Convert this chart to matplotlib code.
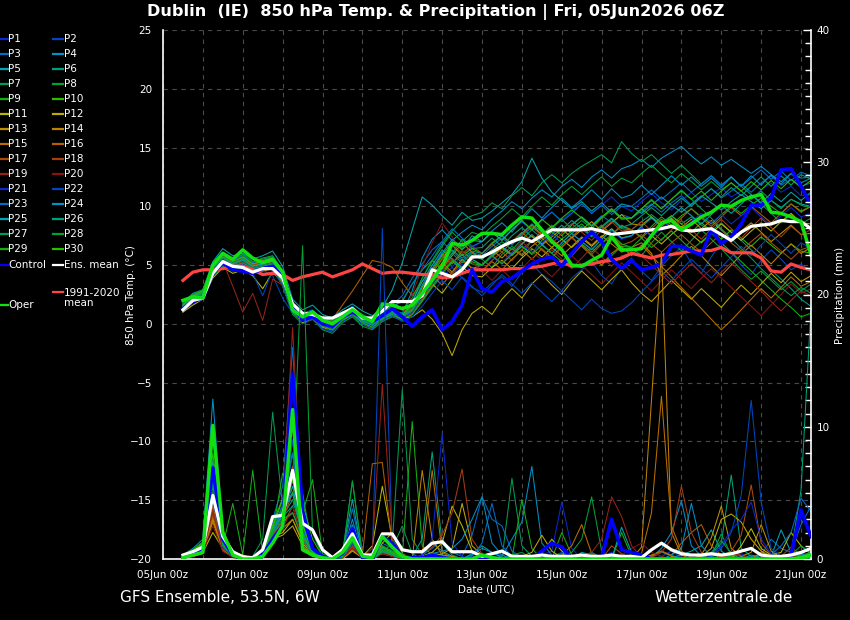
import numpy as np
import matplotlib
matplotlib.use("Agg")
import matplotlib.pyplot as plt
from matplotlib.lines import Line2D

# ---------------- data ----------------
TITLE = "Dublin  (IE)  850 hPa Temp. & Precipitation | Fri, 05Jun2026 06Z"
TICK_LABELS = ["05Jun 00z", "07Jun 00z", "09Jun 00z", "11Jun 00z", "13Jun 00z",
               "15Jun 00z", "17Jun 00z", "19Jun 00z", "21Jun 00z"]
# forecast valid times, hours after 05Jun 00z (6-hourly, 05Jun 12z .. 21Jun 06z)
HOURS = list(range(12, 391, 6))

ENS_MEAN_T = [1.2,2.0,2.2,4.3,5.3,4.9,4.8,4.4, 4.7,4.7,3.9,1.7,0.9,0.8,0.5,0.5,
              0.9,1.3,0.5,0.5,1.1,1.9,1.9,1.9, 2.4,4.6,4.3,4.0,4.6,5.7,5.7,6.1,
              6.6,7.0,7.3,7.0,7.5,8.0,8.0,8.0, 8.0,8.1,7.9,7.6,7.7,7.8,7.9,8.0,
              8.1,8.3,8.0,7.9,8.0,8.1,7.6,7.1, 7.8,8.3,8.4,8.5,8.8,8.7,8.7,8.1]
CLIM_T = [3.7,4.4,4.6,4.6,4.7,4.9,4.9,4.6, 4.2,4.3,4.2,3.7,4.0,4.2,4.4,4.0,
          4.3,4.6,5.1,4.7,4.3,4.4,4.4,4.3, 4.2,4.2,3.9,4.0,4.3,4.6,4.6,4.6,
          4.6,4.7,4.7,4.8,4.9,5.1,5.3,4.9, 5.0,5.1,5.3,5.4,5.6,6.0,5.8,5.6,
          5.85,5.9,6.05,6.2,6.2,6.25,6.5,6.05, 6.05,6.05,5.6,4.5,4.4,5.1,4.8,4.6]
CONTROL_T = [1.3,1.9,2.2,4.3,5.2,4.6,4.5,4.3, 4.7,4.9,4.0,1.5,0.3,0.6,0.0,-0.2,
             0.6,1.0,0.6,0.2,0.7,1.3,0.6,-0.2, 0.6,1.2,-0.5,0.2,1.6,4.6,3.0,2.7,
             3.6,3.9,4.5,5.1,5.5,5.7,4.9,6.0, 7.0,7.8,7.0,5.5,4.7,5.4,4.6,4.8,
             5.1,6.6,6.6,6.2,5.85,8.0,6.85,7.4, 8.5,10.1,10.1,10.7,13.1,13.2,11.7,10.1]
OPER_T = [2.0,2.3,2.2,5.0,6.0,5.5,6.3,5.6, 5.2,5.5,4.4,1.2,0.6,1.0,0.3,0.0,
          0.6,1.2,0.6,0.2,1.7,1.6,1.3,1.6, 2.6,3.7,4.9,6.85,6.7,7.1,7.7,7.7,
          7.6,8.4,9.1,9.0,8.0,7.0,6.3,5.0, 4.9,5.4,5.85,7.4,6.3,6.3,6.4,7.5,
          8.6,8.8,8.0,8.5,9.1,9.5,10.1,10.0, 10.5,10.8,11.0,9.5,9.4,9.1,8.7,5.85]

ENS_MEAN_R = [0.3,0.55,0.9,4.8,1.7,0.55,0.17,0.1, 0.7,3.2,3.3,6.7,2.7,2.2,0.7,0.1,
              0.7,1.9,0.3,0.3,1.9,1.9,0.7,0.55, 0.55,1.2,1.3,0.55,0.55,0.55,0.2,0.4,
              0.6,0.2,0.2,0.2,0.3,0.2,0.2,0.2, 0.3,0.2,0.2,0.3,0.2,0.2,0.1,0.7,
              1.2,0.7,0.4,0.3,0.3,0.4,0.3,0.4, 0.6,0.8,0.3,0.2,0.2,0.3,0.5,0.8]
CONTROL_R = [0.1,0.4,0.8,6.9,1.5,0.3,0,0, 0.3,1.5,2.5,14.0,3.5,0.8,0.2,0,
             0.4,2.3,0.1,0,1.7,1.2,0.2,0.1, 0.1,0.3,0.1,0,0,0,0,0,
             0,0,0,0,0.6,1.2,0.9,0, 0,0,0.1,3.0,0.7,0.5,0.3,0,
             0,0,0,0,0,0,0,0, 0,0,0,0,0,0.3,3.7,1.7]
OPER_R = [0.1,0.3,0.5,10.1,2.0,0.3,0,0, 0.2,1.2,2.5,11.3,0.7,0.3,0.1,0,
          0.5,1.6,0.2,0.1,1.7,0.9,0.2,0, 0,0,0,0,0,0,0.3,0.1,
          0,0,0,0,0,0,0,0, 0,0,0,0,0,0,0,0,
          0,0,0,0,0,0,0,0, 0,0,0,0,0,0,0.1,0.3]

# perturbation members: 850 hPa temperature (deg C)
P01_T = [1.4,2.1,2.6,4.8,5.6,5.0,5.3,4.6, 4.9,5.2,3.8,1.2,0.4,0.8,0.1,-0.3, 0.5,1.1,0.3,0.0,0.6,1.0,0.4,0.9,
         2.0,3.1,4.0,4.8,5.9,6.5,7.0,7.8, 7.2,8.1,8.7,8.0,8.9,9.5,8.8,9.6, 10.2,9.4,10.1,10.8,10.0,9.6,10.4,11.1, 10.3,9.7,10.5,11.2,10.4,11.0,11.6,10.8, 11.3,10.6,11.4,12.0,11.2,11.7,10.9,11.0]
P02_T = [1.1,1.8,2.3,4.2,5.0,4.6,4.8,4.4, 4.6,4.1,2.2,0.9,0.2,0.5,-0.4,-0.6, 0.2,0.8,0.0,-0.3,0.4,0.9,0.8,1.6,
         3.2,5.0,6.1,4.8,3.9,3.1,2.7,3.5, 4.0,3.2,4.4,5.1,4.2,3.6,2.8,3.9, 4.6,5.3,4.1,3.4,4.8,5.6,4.5,3.7, 4.9,5.8,6.5,5.2,4.3,5.7,6.9,6.1, 5.0,4.2,5.4,6.3,5.5,4.6,5.1,4.4]
P03_T = [1.6,2.4,2.8,5.0,6.1,5.4,5.7,5.1, 5.4,5.6,4.4,1.8,0.9,1.2,0.4,0.1, 0.9,1.5,0.7,0.2,0.9,1.6,2.4,3.9,
         5.1,6.3,7.0,6.2,5.4,6.1,5.8,6.6, 7.3,6.7,7.5,8.2,7.6,8.4,7.8,8.5, 9.1,8.4,9.2,8.6,9.3,9.0,9.6,10.2, 9.5,10.3,10.9,10.1,10.8,11.5,10.7,11.3, 11.9,11.2,12.0,12.6,11.8,12.3,11.7,12.0]
P04_T = [1.3,2.2,2.5,4.6,5.5,4.9,5.4,5.0, 5.2,5.5,4.0,1.4,0.6,1.0,0.3,0.2, 0.7,1.3,0.5,0.1,0.8,1.2,0.9,2.8,
         5.6,7.2,8.0,7.1,7.8,8.4,8.0,8.9, 9.6,10.4,9.8,10.7,11.4,10.8,11.7,12.3, 11.6,12.5,13.1,12.4,13.2,13.5,14.0,13.3, 14.1,14.6,15.1,14.3,13.6,14.2,13.5,14.0, 13.4,12.8,13.4,12.7,12.1,12.8,12.4,12.5]
P05_T = [1.8,2.6,2.9,5.3,6.4,5.8,6.0,5.5, 5.8,6.2,4.9,2.1,1.2,1.6,0.8,0.5, 1.2,1.7,1.1,0.7,1.4,2.9,5.2,8.0,
         10.8,10.1,9.2,8.4,9.5,8.8,9.0,9.6, 10.3,11.0,12.1,14.1,12.4,11.2,10.5,9.8, 10.4,9.6,10.3,9.5,10.2,10.0,9.4,10.1, 10.8,10.1,9.5,10.2,10.9,10.3,9.7,10.4, 11.0,10.4,9.8,10.5,9.9,10.6,10.2,10.0]
P06_T = [1.2,2.0,2.4,4.4,5.2,4.7,5.0,4.5, 4.7,4.8,3.6,1.0,0.3,0.6,-0.1,-0.4, 0.4,0.9,0.2,-0.1,0.5,0.8,0.5,1.1,
         2.2,3.5,4.8,6.0,7.2,6.4,6.5,7.3, 6.6,7.5,8.2,7.4,6.8,7.6,8.4,7.7, 8.3,7.5,8.2,8.9,8.1,8.0,8.7,9.3, 8.6,9.2,8.5,9.1,8.4,7.9,8.6,7.8, 7.1,6.3,5.5,4.6,3.8,3.0,2.1,1.5]
P07_T = [1.5,2.3,2.7,4.9,5.8,5.2,5.6,5.0, 5.3,5.4,4.1,1.3,0.5,0.9,0.2,0.0, 0.6,1.2,0.4,0.1,0.7,1.1,0.6,1.8,
         3.9,5.4,6.8,7.9,8.8,9.2,9.5,10.3, 9.8,10.9,11.6,10.9,12.0,12.7,12.0,12.8, 13.4,13.9,14.4,13.7,15.5,14.5,13.8,14.4, 13.6,12.8,13.5,12.7,11.9,12.6,11.8,12.5, 11.7,11.0,10.2,9.4,8.6,9.3,8.5,9.0]
P08_T = [1.0,1.9,2.2,4.1,4.9,4.5,4.9,4.3, 4.5,4.7,3.2,0.8,0.0,0.4,-0.5,-0.8, 0.1,0.6,-0.2,-0.5,0.2,0.6,0.3,0.8,
         1.9,3.1,4.2,5.3,4.6,5.8,5.5,4.8, 5.9,6.6,5.9,7.1,6.3,5.6,6.7,7.4, 6.6,5.8,5.0,5.8,6.6,6.5,5.8,6.9, 7.8,7.0,6.2,7.1,8.0,7.2,6.4,5.5, 4.6,3.8,4.5,3.7,2.9,3.6,2.8,3.4]
P09_T = [1.7,2.5,2.9,5.1,6.0,5.5,5.9,5.3, 5.6,5.8,4.5,1.6,0.8,1.1,0.5,0.3, 1.0,1.4,0.8,0.4,1.0,1.5,1.9,3.4,
         4.6,5.4,4.6,5.2,5.9,5.1,5.0,5.7, 6.4,5.8,6.6,6.0,7.1,7.8,7.2,7.9, 8.5,7.7,8.4,7.6,8.3,8.0,7.4,8.3, 9.1,8.4,9.2,9.8,9.1,8.5,9.3,10.0, 9.4,10.1,10.7,10.0,9.4,10.2,9.6,10.0]
P10_T = [1.4,2.2,2.6,4.7,5.6,5.1,5.5,4.9, 5.1,5.3,3.9,1.1,0.3,0.7,0.0,-0.2, 0.5,1.0,0.3,-0.1,0.5,0.9,0.6,1.4,
         2.8,4.3,5.5,6.7,5.8,6.4,6.0,6.9, 7.5,6.8,7.7,8.4,7.6,8.3,7.5,8.4, 9.1,8.3,9.0,9.7,8.9,9.0,9.8,9.1, 8.4,9.2,8.5,7.8,8.6,7.9,7.2,8.0, 7.3,6.6,7.4,6.7,6.0,6.8,6.2,6.0]
P11_T = [1.0,1.6,2.1,3.9,4.8,4.3,4.6,4.1, 3.0,4.4,3.5,1.0,0.1,0.4,-0.3,-0.5, 0.3,0.7,0.0,-0.4,0.3,0.7,0.4,1.0,
         2.1,3.4,2.6,3.8,4.9,4.1,4.0,4.8, 5.4,4.7,5.6,6.4,5.7,6.5,7.2,6.5, 7.3,6.6,7.4,8.1,7.3,7.5,8.2,7.5, 6.8,7.6,8.3,7.6,6.9,7.7,8.5,7.8, 7.1,7.9,8.6,7.9,8.7,9.4,8.6,8.5]
P12_T = [1.3,2.0,2.4,4.5,5.3,4.8,5.1,4.6, 4.8,5.0,3.7,1.2,0.4,0.7,0.0,-0.3, 0.5,0.9,0.2,-0.2,0.6,1.0,0.5,0.6,
         1.2,0.4,-0.8,-2.7,-0.5,0.9,1.5,0.8, 2.1,3.0,2.2,3.4,4.2,3.3,2.5,3.6, 4.5,3.7,2.9,3.8,4.6,3.5,2.6,1.9, 2.8,3.7,2.9,2.1,3.0,2.2,1.4,2.4, 3.3,2.5,3.4,4.3,3.5,4.4,3.6,4.1]
P13_T = [1.5,2.3,2.6,4.8,5.7,5.1,5.4,4.9, 5.2,5.3,4.0,1.4,0.6,0.9,0.2,0.0, 0.6,1.2,0.5,0.1,0.7,1.1,0.7,1.2,
         2.6,4.0,5.2,4.4,5.5,4.7,5.0,5.8, 6.5,5.9,6.8,7.5,6.7,7.4,8.1,7.3, 8.0,8.7,7.9,8.6,9.3,8.5,8.4,9.1, 8.3,9.0,8.2,8.9,8.1,8.8,8.0,7.2, 7.9,8.6,7.8,7.0,7.7,8.4,7.6,7.7]
P14_T = [1.2,2.0,2.4,4.3,5.2,4.7,5.0,4.4, 4.6,4.8,3.5,1.1,0.2,0.6,-0.2,-0.4, 0.4,0.8,0.1,-0.2,0.5,0.9,0.5,1.0,
         2.3,3.6,4.7,5.8,6.9,6.1,5.5,6.3, 5.6,6.4,5.8,6.6,7.3,6.5,5.8,6.6, 7.4,6.7,7.5,6.8,6.1,6.5,6.9,6.0, 4.1,4.9,5.8,6.6,5.8,4.9,4.1,5.0, 5.9,6.7,5.9,5.1,6.0,6.8,6.0,6.5]
P15_T = [1.6,2.4,2.8,5.0,5.9,5.3,5.7,5.1, 5.4,5.6,4.2,1.5,0.7,1.0,0.3,0.1, 0.8,1.3,0.6,0.2,0.8,1.3,0.8,1.1,
         2.7,4.1,3.3,4.4,5.5,4.7,4.5,5.3, 4.6,5.5,6.3,5.5,6.4,5.6,4.9,5.8, 6.7,5.9,5.0,6.0,6.6,5.8,6.7,5.8, 4.9,4.0,3.1,2.2,1.3,0.4,-0.5,0.3, 1.2,2.1,3.0,2.2,3.1,4.0,3.2,3.6]
P16_T = [1.1,1.8,2.2,4.2,5.1,4.6,4.9,4.3, 4.5,4.7,3.4,1.0,0.2,0.5,-0.2,0.4, 1.6,2.8,4.1,5.4,5.2,4.8,3.5,2.4,
         3.6,4.7,5.9,5.1,6.2,5.5,6.0,6.8, 6.1,7.0,7.8,7.0,7.9,7.2,6.5,7.4, 8.2,7.5,8.3,7.6,8.4,8.0,7.3,8.1, 8.9,8.2,9.0,9.8,9.0,8.3,9.1,9.9, 9.2,10.0,9.3,8.6,9.4,10.2,9.5,10.0]
P17_T = [1.4,2.1,2.5,4.6,5.4,4.9,5.2,4.7, 4.9,5.1,3.8,1.2,0.4,0.8,0.1,-0.2, 0.5,1.0,0.3,-0.1,0.6,1.0,0.6,1.3,
         2.5,3.8,5.0,4.2,5.3,4.8,4.5,5.4, 6.1,5.4,6.3,7.1,6.3,5.6,6.5,7.3, 6.6,5.9,6.8,7.5,6.7,7.0,7.6,6.8, 6.1,6.9,7.6,6.8,6.1,6.9,7.7,6.9, 6.2,7.0,7.7,6.9,6.2,5.5,6.3,6.6]
P18_T = [1.5,2.3,2.7,4.9,5.7,5.1,5.5,5.0, 5.2,5.4,4.0,1.4,0.6,0.9,0.3,0.0, 0.6,1.2,0.5,0.1,0.7,1.2,0.8,1.5,
         3.0,4.4,5.6,6.8,6.0,6.6,6.0,6.8, 7.5,6.8,7.6,8.3,7.5,6.8,7.7,8.5, 7.8,7.1,8.0,8.7,7.9,8.0,8.7,7.9, 7.1,8.0,8.8,8.0,7.2,8.1,8.9,8.1, 7.3,8.2,9.0,8.2,7.4,8.3,7.6,8.0]
P19_T = [1.2,1.9,2.3,4.4,5.3,3.2,1.0,2.6, 0.3,3.8,3.3,1.0,0.2,0.5,-0.2,-0.5, 0.3,0.8,0.1,-0.3,0.4,0.8,0.4,0.9,
         2.1,3.3,4.5,5.6,4.8,5.5,5.0,5.8, 5.2,6.1,7.0,6.2,5.4,6.3,5.5,4.7, 5.6,6.5,5.7,4.9,5.8,6.0,5.8,5.0, 4.2,3.4,4.3,5.1,4.3,3.5,4.4,5.2, 4.4,3.6,2.8,1.9,1.1,2.0,2.8,2.4]
P20_T = [1.4,2.1,2.5,4.6,5.5,5.0,5.3,4.8, 5.0,5.2,3.9,1.3,0.5,0.8,0.1,-0.2, 0.5,1.0,0.3,-0.1,0.6,1.0,0.7,2.5,
         4.8,6.9,8.6,7.4,6.2,5.3,4.5,3.7, 4.6,3.8,4.7,5.6,4.8,4.0,4.9,5.8, 5.0,4.2,3.4,4.3,5.2,4.4,3.6,2.8, 3.7,4.6,3.8,3.0,3.9,4.7,3.9,3.1, 2.3,1.5,0.7,1.6,2.5,3.4,2.6,3.0]
P21_T = [1.3,2.0,2.4,4.5,5.3,4.8,5.1,4.6, 4.8,5.0,3.7,1.1,0.3,0.6,-0.1,-0.4, 0.4,0.9,0.2,-0.2,0.5,0.9,0.5,1.0,
         2.3,3.5,4.6,4.0,5.1,4.5,5.0,5.7, 5.1,6.0,6.7,6.1,6.9,7.6,6.9,7.7, 7.0,6.4,7.2,7.9,7.2,7.5,8.2,7.4, 8.1,8.8,8.0,8.7,9.4,8.6,9.3,8.5, 9.2,9.9,9.1,8.4,9.2,9.9,9.1,9.4]
P22_T = [1.1,1.8,2.2,4.2,5.0,4.5,4.8,4.3, 2.4,4.6,3.3,0.9,0.0,0.4,-0.4,-0.7, 0.2,0.7,0.0,-0.4,0.3,0.7,0.2,0.6,
         1.5,2.6,3.7,2.9,4.0,3.2,2.4,3.3, 4.2,3.4,2.6,3.5,2.7,1.9,2.8,2.0, 1.2,2.1,1.3,0.9,1.1,1.8,2.7,3.6, 4.5,3.7,4.6,5.5,4.7,3.9,4.8,5.7, 6.6,5.8,6.7,7.6,6.8,6.0,6.9,6.4]
P23_T = [1.6,2.4,2.8,5.1,6.0,5.4,5.8,5.2, 5.5,5.7,4.3,1.5,0.7,1.0,0.3,0.1, 0.8,1.3,0.6,0.2,0.8,1.4,2.0,3.4,
         4.6,5.8,7.0,8.1,7.3,6.6,7.0,7.8, 7.1,8.0,8.7,8.0,8.8,9.5,8.7,9.4, 10.2,9.4,10.1,9.3,10.0,10.0,10.7,11.4, 10.6,11.3,12.0,11.2,11.9,12.6,11.8,12.5, 11.7,12.4,13.1,12.3,13.0,12.2,12.9,12.6]
P24_T = [1.2,2.0,2.4,4.4,5.2,4.7,5.0,4.5, 4.7,4.9,3.6,1.0,0.3,0.6,-0.1,-0.3, 0.4,0.9,0.2,-0.1,0.5,0.9,0.6,1.6,
         3.3,4.7,6.0,7.2,6.4,7.5,7.0,7.9, 8.6,7.8,8.9,9.8,9.0,9.9,10.7,9.9, 10.6,11.4,10.6,11.5,10.7,11.0,11.8,11.0, 11.8,12.6,11.8,12.5,11.7,12.4,11.6,12.5, 11.7,12.6,11.8,12.7,11.9,12.8,12.0,12.4]
P25_T = [1.5,2.3,2.7,4.8,5.7,5.1,5.5,4.9, 5.1,5.4,4.0,1.3,0.5,0.8,0.2,-0.1, 0.6,1.1,0.4,0.0,0.6,1.1,0.7,1.9,
         3.6,5.0,6.3,5.5,4.8,5.5,5.0,5.9, 6.6,5.9,6.8,7.6,6.8,6.0,6.9,7.7, 7.0,6.3,7.2,8.0,7.3,7.5,8.3,9.0, 8.3,9.1,9.9,9.2,8.5,9.3,10.1,9.4, 10.2,11.0,10.3,11.1,10.4,11.2,10.5,11.2]
P26_T = [1.3,2.1,2.5,4.6,5.4,4.9,5.2,4.7, 4.9,5.1,3.8,1.2,0.4,0.7,0.0,-0.3, 0.5,1.0,0.3,-0.1,0.6,1.0,0.6,1.2,
         2.6,3.9,5.1,6.3,5.6,6.2,6.0,6.8, 7.5,6.8,7.7,8.5,7.8,7.1,8.0,8.8, 8.1,7.4,8.3,9.0,8.2,8.5,9.2,9.9, 9.2,10.0,10.7,10.0,10.8,11.5,10.8,11.6, 10.9,11.7,12.5,11.7,12.6,11.8,12.7,12.3]
P27_T = [1.4,2.2,2.6,4.7,5.6,5.0,5.4,4.8, 5.0,5.2,3.9,1.2,0.5,0.8,0.1,-0.2, 0.5,1.1,0.4,0.0,0.6,1.0,0.6,1.1,
         2.4,3.7,4.9,6.0,5.2,6.0,5.5,6.3, 7.0,6.3,7.2,8.0,7.3,8.1,8.9,8.1, 8.8,8.1,9.0,9.8,9.0,9.0,9.8,10.6, 9.8,10.6,11.4,10.6,9.8,9.0,8.1,7.3, 6.4,5.6,4.7,3.9,3.1,2.4,3.1,2.6]
P28_T = [1.7,2.5,2.9,5.2,6.1,5.5,5.9,5.3, 5.5,5.7,4.3,1.6,0.8,1.1,0.4,0.2, 0.9,1.4,0.7,0.3,0.9,1.5,1.2,2.2,
         3.9,5.3,6.6,7.8,7.0,7.8,7.5,8.3, 9.0,9.8,9.1,10.0,10.8,10.1,11.0,11.7, 11.0,11.8,12.5,11.7,12.4,12.0,12.8,13.5, 12.7,12.0,12.8,12.1,11.4,12.1,11.4,12.0, 11.3,10.6,11.3,10.5,9.8,10.6,10.1,9.9]
P29_T = [1.2,1.9,2.3,4.3,5.1,4.6,4.9,4.4, 4.6,4.8,3.5,1.0,0.2,0.5,-0.2,-0.5, 0.3,0.8,0.1,-0.3,0.4,0.8,0.4,0.8,
         2.0,3.2,4.3,5.4,4.6,5.3,5.0,5.8, 5.1,5.9,6.6,5.9,6.7,6.0,5.3,6.1, 6.8,6.1,6.9,7.6,6.8,6.5,7.3,6.5, 7.2,7.9,7.1,6.3,7.0,7.7,6.9,6.1, 5.3,4.5,3.7,2.9,2.1,1.4,0.6,0.9]
P30_T = [1.6,2.4,2.8,5.0,5.9,5.3,5.7,5.1, 5.3,5.5,4.1,1.4,0.6,0.9,0.2,0.0, 0.7,1.2,0.5,0.1,0.7,1.2,0.8,1.6,
         3.1,4.5,5.8,7.0,6.3,7.1,7.0,7.8, 7.1,8.0,8.8,8.0,8.9,8.2,9.0,9.7, 9.0,8.3,9.1,9.8,9.0,9.0,9.8,10.5, 9.8,10.6,11.3,10.6,11.3,10.5,11.3,12.0, 11.3,12.1,11.4,12.2,11.5,12.3,11.6,12.2]

# perturbation members: 6-hourly precipitation (mm)
P01_R = [0.2,0.5,0.9,5.5,1.2,0.3,0,0, 0.2,2.8,4.5,9.0,3.0,0.6,0.1,0, 0.3,1.5,0.2,0,0.8,0.4,0.1,0, 0.2,0.5,0.3,0,0,0.1,0.4,0.2, 0.1,0,0,0,0.3,0.6,4.3,0.8, 0,0,0.2,0.5,0.1,0,0,0, 0,0,0.3,0.1,0,0,0.2,0.5, 0.4,0,0,0.1,0,0,0.2,0]
P02_R = [0.1,0.3,0.6,4.0,0.9,0.2,0,0, 0.1,2.2,3.8,8.0,2.5,0.4,0,0, 0.2,1.1,0.1,0.5,25.0,1.0,0.2,0, 0.1,0.3,0.2,0,0.1,0,0.2,0.1, 0,0,0,0,0,0.2,0.5,0.1, 0,0,0,0.3,0.1,0,0,0, 0.2,0.6,0.1,0,0,0,0.1,0, 0,0.2,0.1,0,0,0.3,0.5,0.2]
P03_R = [0.1,0.4,0.8,6.0,1.5,0.3,0,0.1, 0.3,3.0,5.5,16.0,2.8,0.5,0.1,0, 0.4,3.8,0.3,0,1.2,0.8,0.1,0, 0.3,0.8,1.5,0.5,0.2,1.8,4.7,3.0, 2.5,0.6,0.1,0,0,0,0.2,0.1, 0,0,0.1,0.4,0,0,0,0.2, 0.5,0.3,0,0,0.2,0,0,0.1, 0,0,0.3,1.5,0.8,0.5,2.6,4.0]
P04_R = [0.3,0.8,1.5,12.1,2.0,0.4,0.1,0, 0.2,2.5,3.5,5.0,2.2,0.5,0,0, 0.3,2.6,0.2,0,1.0,0.5,0.1,0, 0.2,0.4,0.3,0.1,0,0.3,0.8,0.5, 0.2,1.5,2.8,7.0,1.2,0.3,0,0, 0.2,0.5,0.1,0,0,0,0,0.1, 0.8,2.0,4.4,1.0,0.2,0,0,0.3, 0.2,0.1,0,0,0.1,0.4,0.2,0.1]
P05_R = [0.2,0.6,1.2,9.5,1.8,0.3,0,0, 0.1,2.0,4.0,6.0,2.0,0.4,0.1,0, 0.5,4.5,0.2,0,0.9,0.6,0.1,0, 0.3,1.2,0.6,0.2,0,0.4,1.0,0.5, 0.1,0,0,0,0.3,0.1,0,0, 0.5,0.3,0,0,0,0,0,0, 0,0.1,0.3,0.6,1.0,2.2,0.6,0.1, 0,0.3,0.1,0.2,2.2,0.5,0.1,0.6]
P06_R = [0.2,0.5,1.0,7.0,1.4,0.2,0,0, 0.1,2.3,3.2,4.5,1.8,0.3,0,0, 0.2,2.0,0.1,0,0.6,0.3,0,0.2, 1.5,8.1,1.2,0.3,0,0.1,0.2,0, 0,0,0,0,0,0.2,0.4,0.1, 0,0,0,0.2,0,0,0,0, 0,0,0.1,0,0,0.3,1.2,6.35, 0.8,0.2,0.3,0.1,0,0.5,5.2,19.0]
P07_R = [0.1,0.4,0.8,6.0,1.0,0.2,0,0.2, 1.5,11.1,4.0,7.0,1.5,0.3,0,0, 0.2,1.3,0.1,0,0.5,1.2,12.8,1.5, 0.3,0.2,0.1,0,0,0,0.2,0.1, 0,6.1,1.0,0.2,0,0,0.1,0, 0,0.2,0,0,0,0,0,0, 0,0,0,0.1,0,0,0.3,0.1, 0,0,0,0,0.1,0,0.2,0.4]
P08_R = [0.2,0.3,0.7,5.0,0.8,0.3,0,0, 0.2,1.9,3.0,6.0,23.7,2.0,0.2,0, 0.3,5.9,0.4,0,0.7,0.5,0.1,0, 0.2,0.4,0.1,0,0,0.1,0.3,0.2, 0,0.3,0.5,0,0,0,0.2,0.5, 1.5,4.7,0.6,0.1,0,0,0,0, 0.1,0,0,0,0,0.2,1.9,0.3, 0,0,0,0,0,0.1,0.3,0.2]
P09_R = [0.1,0.3,0.6,4.5,1.0,4.2,0.3,6.7, 0.5,2.4,3.8,5.0,3.5,6.0,0.4,0, 0.2,1.8,0.3,0,1.0,0.6,0.2,10.4, 1.0,0.3,0.2,0.1,0,0,0.1,0, 0,0,4.5,0.8,0,0,2.0,0.3, 0,0,0,0,2.0,0.2,0,0, 0,0,0,0,0,0,0,0.2, 0,0,0,0.2,0,0.4,0.3,0.1]
P10_R = [0.3,0.7,1.3,7.0,2.2,0.4,0,0, 0.2,2.6,4.6,8.0,4.2,1.5,0.2,0, 0.3,2.2,0.2,0,0.8,0.4,0.1,0, 0.1,0.2,0.1,0,0,0,0.1,0, 0,0.2,0,0,0,0,0,0, 0,0,0,0,0,0,0,0, 0,0.1,0,0,0,0,0,0, 0.1,0,0,0,0,0,0.1,0.3]
P11_R = [0.1,0.2,0.5,2.0,0.8,0.5,0.3,0, 0.1,1.6,2.0,3.0,1.2,0.3,0,0, 0.1,0.8,0.2,1.0,5.5,1.5,0.3,0, 0.2,0.5,1.2,4.0,2.5,0.6,0.2,0, 0,0,0,0,0.4,1.5,0.6,0.2, 0,0,0,0,0,0,0,0, 0,0,0,0,0.1,0.3,0.2,0, 1.0,2.3,0.8,0.3,0.5,2.0,1.0,0.4]
P12_R = [0.1,0.2,0.4,3.0,0.7,0.2,0,0, 0.1,1.5,1.8,2.5,1.0,0.2,0,0, 0,0.6,0.1,0,1.2,2.0,0.4,0, 0.1,0.2,0.4,0.8,4.2,1.0,0.3,0, 0,0,0.2,0.5,1.8,0.6,0.1,0, 0,0,0,0,0.3,0.1,0,0, 0,0,0,0,0.2,0.8,3.0,3.4, 2.8,1.5,0.6,0.2,0,0,0.1,0.2]
P13_R = [0.2,0.3,0.6,3.5,0.9,0.3,0,0, 0.1,1.8,2.8,3.5,1.6,0.4,0,0, 0.2,1.0,0.1,0,0.6,0.3,0,0, 0,0.1,0.3,0.2,0,0,0.1,0, 0,0,0,0,0,0,0,0, 0,0,0,0,0,0,0,0.3, 0.6,0.2,0,0,0.3,1.6,4.0,0.8, 0.2,0.5,2.6,0.6,0.1,0,0.2,0.3]
P14_R = [0.1,0.3,0.5,2.8,0.6,0.2,0,0, 0.1,1.6,2.3,3.0,1.4,0.3,0,0, 0.1,0.7,0.1,0,0.4,0.2,0,0, 6.7,1.5,0.3,0,0,0,0.1,0, 0,0,0,0,0,0,0,0, 0.2,0,0,0,0,0,0.9,12.0, 23.2,2.0,0.3,0,0,0,0,0, 0,0,0,0.1,0,0,0,0.1]
P15_R = [0.1,0.2,0.6,3.2,0.8,0.2,0,0, 0.1,1.7,2.5,4.0,1.5,0.3,0,0, 0.2,0.9,0.1,0,0.5,0.3,0,0, 0.3,6.7,0.5,0.1,0,0,0.1,0, 0,0,0,0,0,0,0.3,1.0, 2.6,0.4,0,0,0,0,0.4,3.5, 12.3,2.5,0.6,0.1,0,0,0,0, 0,0,0.5,0.2,0,0,0,0]
P16_R = [0.1,0.3,0.7,4.0,1.0,0.3,0,0, 0.2,1.9,3.0,5.0,1.8,0.5,0.1,0, 0.2,1.4,0.3,7.2,7.3,1.0,0.2,0, 0.1,0.3,0.2,0,0,0,0,0, 0,0,0,0,0,0,0,0, 0,0,0,0,0,0,0,0.2, 0.6,0.3,1.2,2.0,2.6,1.0,0.3,0, 0,0,0,0,0,0,0.2,0.5]
P17_R = [0.2,0.4,0.8,5.0,1.1,0.3,0,0, 0.2,2.1,3.6,7.0,2.2,0.4,0,0, 0.2,1.2,0.2,0,0.7,0.3,0,0, 0,0.2,0.1,0,0,0,0,0, 0,0,0,0,0,0,0,0, 0,0,0,1.0,0.4,0,0,0, 0,0,0,0,0,0,0.2,0.6, 1.8,5.6,1.2,0.3,0,0,0,0.2]
P18_R = [0.1,0.3,0.6,3.8,0.8,0.2,0,0, 0.1,1.8,2.7,6.0,1.9,0.3,0,0, 0.1,0.9,0.1,0,0.5,0.2,0,0, 0.3,0.9,1.8,3.5,6.8,1.5,0.4,0.1, 0,0,0,0,0,0,0,0, 0,0,0,0,0,0,0,0.1, 0.5,1.5,5.5,2.0,0.5,0.1,0,0, 0,0,0,0,0.2,0.9,0.3,0]
P19_R = [0.2,0.4,0.7,3.5,0.8,0.2,0,0, 0.1,2.2,4.0,17.5,2.5,0.5,0,0, 0.2,1.0,0.1,0.8,13.2,1.5,0.3,0, 0,0.2,0.1,0,0,0,0,0, 0,0,0,0,0,0,0,0, 0,0.5,1.5,4.7,3.2,1.0,0.1,0, 0,0,0,0,0,0,0.2,0.4, 0.3,0,0,0,0,0,0,0]
P20_R = [0.1,0.2,0.5,2.5,0.6,0.1,0,0, 0.1,1.6,2.2,4.0,1.5,0.3,0,0, 0.1,0.8,0.1,0,0.4,0.2,0,0, 0,0.1,0,0,0,0,0,0, 0,0,0,0,0,0,0,0, 0,0,0,0,0.3,0.8,1.2,0.5, 0.2,0,0,0,0,0,0,0, 0,0,0,0,0,0.2,0.1,0]
P21_R = [0.2,0.5,0.9,6.0,1.2,0.2,0,0, 0.2,2.3,4.2,14.0,2.4,0.4,0,0, 0.2,1.6,0.2,0,0.9,0.5,0.1,0, 0.3,1.5,9.5,1.2,0.2,0,0,0, 0,0,0,0,0,0,0,0, 0,0,0,0,0,0,0,0, 0,0,0,0,0,0.3,1.0,2.2, 3.0,4.3,1.5,0.4,0,0,0,0]
P22_R = [0.1,0.3,0.6,4.5,0.9,0.2,0,0, 0.1,2.0,3.3,9.0,2.0,0.3,0,0, 0.1,1.2,0.1,0,0.7,0.3,0,0, 0,0.3,0.2,0,0,0,0.2,0.5, 0.3,0,0,0,0,0,0,0, 0,0,0,0,0,0,0,0, 0,0,0,0,0,0.2,0.8,2.0, 4.8,12.0,4.3,0.8,0.2,0,0.1,0]
P23_R = [0.1,0.4,0.7,5.0,1.0,0.2,0,0, 0.1,2.1,3.9,8.0,2.2,0.4,0,0, 0.2,1.4,0.2,0,0.8,0.4,0,0, 0.1,0.3,0.2,0,0,0.2,1.2,4.2, 1.0,0.2,0,0,0,0,0,0, 0,0,0,0,0,0,0,0, 0,0,0,0,0,0,0,0, 0,0,0,0.3,1.0,2.0,4.6,3.6]
P24_R = [0.2,0.6,1.1,6.0,1.6,0.3,0,0, 0.2,2.2,3.6,5.0,1.8,0.4,0,0, 0.3,3.0,0.2,0,0.8,0.4,0.1,0, 0.2,0.4,0.6,0.8,1.5,3.0,4.7,1.2, 0.3,0,0,0,0,0,0,0, 0,0,0,0,0,0,0,0, 0,0.3,0.8,4.2,1.0,0.2,0,0, 0,0,0,0,0,0.2,0.4,0.1]
P25_R = [0.2,0.5,1.0,7.5,1.3,0.3,0,0, 0.1,2.0,3.4,5.5,2.0,0.3,0,0, 0.2,2.4,0.2,0,0.6,0.3,0,0, 0.1,0.2,0.3,0,0,0,0.2,0.1, 0,0,0,0,0,0,0,0, 0,0,0,0,2.4,0.5,0,0, 0,0,0,0,0,0,0,0, 0,0,0,0,0,0,0.1,0]
P26_R = [0.2,0.4,0.8,6.5,1.2,0.2,0,0, 0.1,2.1,3.2,4.0,5.0,0.6,0.1,0, 0.2,1.5,0.1,0,0.6,0.3,0,0, 0,0.2,0.1,0,0,0,0,0, 0,0,0,0,0,0,0,0, 0,0,0,0,0,0,0,0, 0,0,0,0,0,0,0,0, 0,0,0,0,0,0,0.2,0.5]
P27_R = [0.1,0.3,0.7,5.5,1.0,0.2,0,0, 0.1,1.9,3.0,3.5,1.5,0.3,0,0, 0.1,1.3,0.1,0,0.5,0.8,2.5,0.4, 0,0,0.1,0,0,0,0,0, 0,0,0,0,0,0,0,0, 0,0,0,0,0,0,0,0, 0,0,0,0,0,0.5,1.4,0.4, 0,0,0,0,0,0,0,0]
P28_R = [0.2,0.5,1.0,5.0,1.4,0.3,0,0, 0.2,2.3,4.0,6.0,2.5,0.5,0,0, 0.3,5.9,0.3,0,0.8,0.4,0.1,0, 0,0.1,0,0,0,0,0,0, 0,0,0,0,0,0,0,0, 0,0,0,0,0,0,0,0, 0,0,0,0,0,0,0,0, 0,0,0,0,0,0.3,1.0,0.4]
P29_R = [0.1,0.4,0.8,6.0,1.1,0.2,0,0, 0.2,2.0,6.5,5.0,2.0,0.4,0,0, 0.2,1.6,0.2,0,0.7,0.4,0,0, 0,0,0,0,0,0,0,0, 0,0,0,0,0,0,0,0, 0,0,0,0,0,0,0,0, 0,0,0,0,0,0,0,0, 0,0,0,0,0,0,0,0.2]
P30_R = [0.2,0.6,1.2,8.0,2.0,0.4,0,0, 0.2,2.4,4.5,6.0,2.6,0.5,0,0, 0.3,2.0,0.2,0,0.9,0.5,0.1,0, 0,0,0,0,0,0,0,0, 0,0,0,0,0,0,0,0, 0,0,0,0,0,0,0,0, 0,0,0,0,0,0,0,0, 0,0,0,0,0,0,0,0.1]

MEMBER_T = [P01_T, P02_T, P03_T, P04_T, P05_T, P06_T, P07_T, P08_T, P09_T, P10_T,
            P11_T, P12_T, P13_T, P14_T, P15_T, P16_T, P17_T, P18_T, P19_T, P20_T,
            P21_T, P22_T, P23_T, P24_T, P25_T, P26_T, P27_T, P28_T, P29_T, P30_T]
MEMBER_R = [P01_R, P02_R, P03_R, P04_R, P05_R, P06_R, P07_R, P08_R, P09_R, P10_R,
            P11_R, P12_R, P13_R, P14_R, P15_R, P16_R, P17_R, P18_R, P19_R, P20_R,
            P21_R, P22_R, P23_R, P24_R, P25_R, P26_R, P27_R, P28_R, P29_R, P30_R]

BASE_COLORS = ["#0a28d2", "#0046be", "#006ec8", "#0091c8", "#00a5af", "#00a07d", "#009b55",
               "#00a037", "#14af14", "#28be00", "#b9b900", "#beaa00", "#be9100", "#be8200",
               "#b96e00", "#b45f00", "#aa4b0a", "#a53c14", "#962319", "#871414"]
MEMBER_COLORS = BASE_COLORS + BASE_COLORS[:10]
MEMBER_NAMES = ["P%d" % (k + 1) for k in range(30)]

C_CONTROL = "#0000ff"
C_MEAN = "#ffffff"
C_CLIM = "#ff4444"
C_OPER = "#11e011"

# ---------------- figure ----------------
W, H = 850, 620
fig = plt.figure(figsize=(W / 100, H / 100), dpi=100, facecolor="black")


def fx(x):
    return x / W


def fy(y):
    return 1 - y / H


ax = fig.add_axes([fx(163), fy(559), (811 - 163) / W, (559 - 30) / H])
ax.set_facecolor("black")
ax2 = ax.twinx()


def hx(series):
    return HOURS[:len(series)]


for T, c in zip(MEMBER_T, MEMBER_COLORS):
    ax.plot(hx(T), T, color=c, lw=0.75, zorder=2)

ax.plot(hx(CLIM_T), CLIM_T, color=C_CLIM, lw=2.3, zorder=3)
ax.plot(hx(CONTROL_T), CONTROL_T, color=C_CONTROL, lw=2.6, zorder=4)
ax.plot(hx(ENS_MEAN_T), ENS_MEAN_T, color=C_MEAN, lw=2.3, zorder=5)
ax.plot(hx(OPER_T), OPER_T, color=C_OPER, lw=2.5, zorder=6)

for R, c in zip(MEMBER_R, MEMBER_COLORS):
    ax2.plot(hx(R), R, color=c, lw=0.75, zorder=2)
ax2.plot(hx(CONTROL_R), CONTROL_R, color=C_CONTROL, lw=2.6, zorder=4)
ax2.plot(hx(ENS_MEAN_R), ENS_MEAN_R, color=C_MEAN, lw=2.3, zorder=5)
ax2.plot(hx(OPER_R), OPER_R, color=C_OPER, lw=2.5, zorder=6)

# axes / ticks
ax.set_xlim(0, 390)
ax.set_ylim(-20, 25)
ax2.set_ylim(0, 40)
ax.set_xticks(range(0, 385, 48))
ax.set_xticklabels(TICK_LABELS)
ax.set_xticks(range(0, 391, 24), minor=True)
ax.set_yticks(range(-20, 26, 5))
ax.tick_params(axis="both", which="both", colors="white", labelsize=7.5, length=0)
ax.tick_params(axis="y", pad=8)
ax.tick_params(axis="x", pad=8)
ax.grid(True, which="both", axis="x", color="#4a4a4a", lw=0.8, ls=(0, (4, 4)), zorder=0)
ax.grid(True, which="major", axis="y", color="#4a4a4a", lw=0.8, ls=(0, (4, 4)), zorder=0)
ax.set_axisbelow(True)

ax2.set_yticks(range(0, 41, 10))
ax2.set_yticks(range(0, 41, 1), minor=True)
ax2.tick_params(axis="y", which="major", colors="white", labelsize=7.5, direction="in",
                length=6, width=1, pad=4)
ax2.tick_params(axis="y", which="minor", colors="white", direction="in", length=4, width=1)

for s in ["top", "right"]:
    ax.spines[s].set_visible(False)
for s in ["left", "bottom"]:
    ax.spines[s].set_color("white")
    ax.spines[s].set_linewidth(1.2)
for s in ["top", "left", "bottom"]:
    ax2.spines[s].set_visible(False)
ax2.spines["right"].set_color("white")
ax2.spines["right"].set_linewidth(1.2)

# axis titles
fig.text(fx(131), fy(295), "850 hPa Temp. (\u00b0C)", rotation=90, color="white",
         fontsize=7.5, ha="center", va="center")
fig.text(fx(840), fy(295), "Precipitation (mm)", rotation=90, color="white",
         fontsize=7.5, ha="center", va="center")
fig.text(fx(486), fy(589), "Date (UTC)", color="white", fontsize=7.5, ha="center", va="center")

# title and footer
fig.text(fx(436), fy(12), TITLE, color="white", fontsize=11.6, fontweight="bold",
         ha="center", va="center")
fig.text(fx(120), fy(598), "GFS Ensemble, 53.5N, 6W", color="white", fontsize=11,
         ha="left", va="center")
fig.text(fx(793), fy(598), "Wetterzentrale.de", color="white", fontsize=11,
         ha="right", va="center")


# legend (drawn manually to reproduce the two-column layout)
def legend_entry(x_handle, y, color, label, text_dx=8, hlen=8, linespacing=1.0):
    fig.add_artist(Line2D([fx(x_handle), fx(x_handle + hlen)], [fy(y), fy(y)],
                          transform=fig.transFigure, color=color, lw=1.6))
    fig.text(fx(x_handle + text_dx), fy(y), label, color="white", fontsize=7.5,
             ha="left", va="center", linespacing=linespacing)


for k in range(30):
    row = k // 2
    y = 39 + 15 * row
    if k % 2 == 0:
        legend_entry(0, y, MEMBER_COLORS[k], MEMBER_NAMES[k], text_dx=8)
    else:
        legend_entry(53, y, MEMBER_COLORS[k], MEMBER_NAMES[k], text_dx=11, hlen=10)

legend_entry(0, 265, C_CONTROL, "Control", text_dx=8)
legend_entry(53, 265, C_MEAN, "Ens. mean", text_dx=11, hlen=10)
fig.add_artist(Line2D([fx(53), fx(63)], [fy(292), fy(292)], transform=fig.transFigure,
                      color=C_CLIM, lw=1.6))
fig.text(fx(64), fy(298), "1991-2020\nmean", color="white", fontsize=7.5, ha="left",
         va="center", linespacing=0.95)
legend_entry(0, 305, C_OPER, "Oper", text_dx=8)

fig.savefig("out.png", dpi=100, facecolor="black")
